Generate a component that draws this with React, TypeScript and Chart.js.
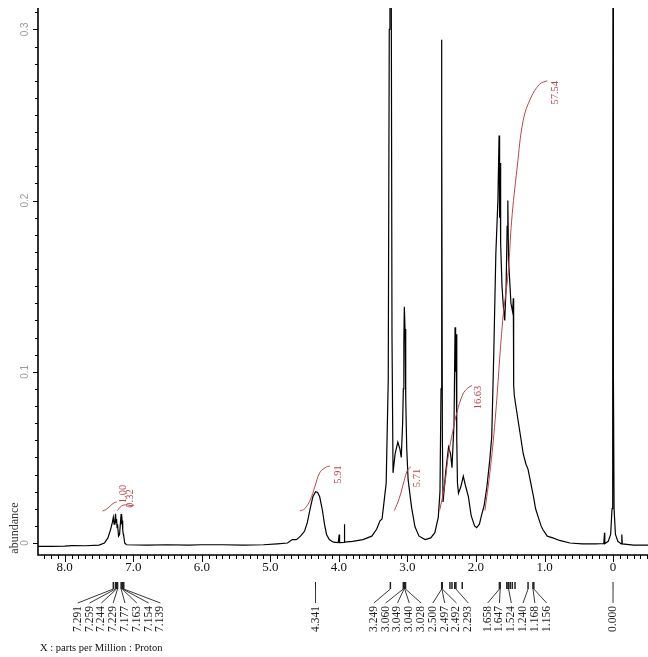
import React, { useEffect, useRef } from "react";
import { Chart, registerables } from "chart.js";

Chart.register(...registerables);

// ---- Spectrum (ppm, abundance) ----
const spectrumPpm = [
  8.39, 8.2, 8.0, 7.9, 7.7, 7.5, 7.42, 7.37, 7.33, 7.305, 7.291, 7.28, 7.267, 7.259, 7.25, 7.244, 7.236, 7.229,
  7.215, 7.2, 7.185, 7.177, 7.17, 7.163, 7.154, 7.146, 7.139, 7.125, 7.1, 6.8, 6.5, 6.2, 6.0, 5.7, 5.4, 5.1, 4.9,
  4.75, 4.68, 4.62, 4.56, 4.5, 4.46, 4.42, 4.38, 4.34, 4.31, 4.28, 4.24, 4.21, 4.18, 4.14, 4.08, 4.01, 3.995, 3.99,
  3.925, 3.92, 3.915, 3.8, 3.65, 3.52, 3.45, 3.4, 3.37, 3.35, 3.31, 3.28, 3.265, 3.255, 3.24, 3.225, 3.21, 3.18,
  3.14, 3.11, 3.09, 3.07, 3.06, 3.052, 3.045, 3.035, 3.025, 3.01, 2.99, 2.94, 2.89, 2.83, 2.74, 2.66, 2.6, 2.55,
  2.525, 2.51, 2.503, 2.497, 2.49, 2.48, 2.44, 2.4, 2.37, 2.35, 2.32, 2.305, 2.297, 2.29, 2.28, 2.27, 2.255, 2.22,
  2.185, 2.15, 2.11, 2.07, 2.02, 1.99, 1.95, 1.92, 1.88, 1.84, 1.8, 1.77, 1.74, 1.71, 1.68, 1.663, 1.655, 1.648,
  1.64, 1.62, 1.6, 1.58, 1.56, 1.545, 1.535, 1.525, 1.51, 1.49, 1.465, 1.455, 1.45, 1.44, 1.41, 1.36, 1.31, 1.27,
  1.24, 1.2, 1.16, 1.13, 1.09, 1.05, 1.02, 0.96, 0.88, 0.78, 0.63, 0.45, 0.25, 0.135, 0.125, 0.12, 0.07, 0.035,
  0.015, 0.005, 0.0, -0.005, -0.015, -0.035, -0.07, -0.12, -0.128, -0.135, -0.3, -0.51,
];
const spectrumAbund = [
  -0.002, -0.002, -0.0018, -0.0015, -0.0016, -0.0012, 0.0, 0.003, 0.008, 0.012, 0.015, 0.011, 0.013, 0.017, 0.012,
  0.014, 0.009, 0.011, 0.004, 0.005, 0.013, 0.017, 0.011, 0.013, 0.008, 0.005, 0.004, 0.0, -0.001, -0.0012, -0.001,
  -0.0012, -0.001, -0.001, -0.0012, -0.001, -0.0005, 0.0, 0.002, 0.002, 0.004, 0.007, 0.012, 0.02, 0.027, 0.03,
  0.0295, 0.027, 0.019, 0.011, 0.005, 0.002, 0.0005, 0.0003, 0.005, 0.0003, 0.0004, 0.011, 0.0005, 0.001, 0.002,
  0.004, 0.008, 0.013, 0.014, 0.021, 0.035, 0.095, 0.3, 0.45, 0.4, 0.12, 0.041, 0.052, 0.059, 0.055, 0.05, 0.07,
  0.09, 0.118, 0.138, 0.125, 0.085, 0.055, 0.037, 0.021, 0.0095, 0.004, 0.002, 0.003, 0.006, 0.015, 0.03, 0.09,
  0.294, 0.25, 0.06, 0.024, 0.042, 0.056, 0.052, 0.044, 0.07, 0.126, 0.1, 0.122, 0.06, 0.035, 0.029, 0.033, 0.039,
  0.033, 0.027, 0.016, 0.01, 0.009, 0.011, 0.016, 0.022, 0.033, 0.048, 0.062, 0.111, 0.169, 0.2, 0.238, 0.19,
  0.222, 0.175, 0.15, 0.138, 0.13, 0.15, 0.185, 0.2, 0.165, 0.155, 0.14, 0.135, 0.143, 0.092, 0.086, 0.078, 0.065,
  0.052, 0.046, 0.043, 0.035, 0.027, 0.02, 0.015, 0.01, 0.0076, 0.004, 0.003, 0.0015, 0.0, -0.0005, -0.0005,
  -0.0003, 0.006, -0.0003, 0.001, 0.005, 0.02, 0.1, 0.45, 0.1, 0.02, 0.005, 0.001, -0.0005, 0.005, -0.0005,
  -0.0012, -0.0012,
];

// ---- Integration curves ----
const int1aPpm = [7.45, 7.4, 7.34, 7.28, 7.24];
const int1aVal = [0.0187, 0.0195, 0.0215, 0.0235, 0.024];
const int1bPpm = [7.23, 7.19, 7.14, 7.08, 7.02, 6.99];
const int1bVal = [0.019, 0.021, 0.0222, 0.0222, 0.0218, 0.0222];
const int2Ppm = [4.57, 4.5, 4.42, 4.35, 4.28, 4.2, 4.13];
const int2Val = [0.0187, 0.02, 0.025, 0.033, 0.041, 0.044, 0.045];
const int3Ppm = [3.19, 3.12, 3.05, 3.0, 2.95];
const int3Val = [0.019, 0.026, 0.036, 0.0425, 0.0445];
const int4Ppm = [2.53, 2.46, 2.4, 2.34, 2.28, 2.19, 2.12, 2.06];
const int4Val = [0.019, 0.033, 0.052, 0.065, 0.076, 0.087, 0.0905, 0.092];
const int5Ppm = [1.87, 1.8, 1.72, 1.61, 1.53, 1.48, 1.4, 1.31, 1.2, 1.07, 0.96];
const int5Val = [0.019, 0.04, 0.072, 0.13, 0.158, 0.188, 0.219, 0.247, 0.26, 0.268, 0.27];

const integralLabels = ["1.00", "0.32", "5.91", "5.71", "16.63", "57.54"];
const integralLabelPpm = [7.15, 7.04, 4.01, 2.85, 1.97, 0.85];
const integralLabelVal = [0.0286, 0.026, 0.04, 0.038, 0.085, 0.263];

// ---- Peak pick labels ----
const peakGroups = [
  [7.291, 7.259, 7.244, 7.229, 7.177, 7.163, 7.154, 7.139],
  [4.341],
  [3.249, 3.06, 3.049, 3.04, 3.028, 2.5, 2.497, 2.492, 2.293],
  [1.658, 1.647, 1.524, 1.24, 1.168, 1.156],
  [0.0],
];
const unlabeledPeaks = [2.38, 2.35, 2.31, 2.2, 1.55, 1.53, 1.5, 1.47, 1.43];

// ---- Axis ticks ----
const xTickLabels = ["8.0", "7.0", "6.0", "5.0", "4.0", "3.0", "2.0", "1.0", "0"];
const xTickValues = [8, 7, 6, 5, 4, 3, 2, 1, 0];
const yTickLabels = ["0", "0.1", "0.2", "0.3"];
const yTickValues = [0, 0.1, 0.2, 0.3];

const toXY = (xs: number[], ys: number[]) => xs.map((x, i) => ({ x, y: ys[i] }));

const RED = "#b8474a";

const decorPlugin = {
  id: "decor",
  afterDraw(chart: any) {
    const ctx = chart.ctx as CanvasRenderingContext2D;
    const xs = chart.scales.x;
    const ys = chart.scales.y;
    const area = chart.chartArea;
    ctx.save();
    // axis lines
    ctx.strokeStyle = "#000";
    ctx.lineWidth = 1.6;
    ctx.beginPath();
    ctx.moveTo(area.left, area.top);
    ctx.lineTo(area.left, area.bottom);
    ctx.lineTo(area.right, area.bottom);
    ctx.stroke();
    // y ticks
    ctx.lineWidth = 1;
    for (let i = 0; i <= 31; i++) {
      const py = Math.round(ys.getPixelForValue(i / 100)) + 0.5;
      const len = i % 10 === 0 ? 5 : 3;
      ctx.beginPath();
      ctx.moveTo(area.left - len, py);
      ctx.lineTo(area.left, py);
      ctx.stroke();
    }
    // x ticks
    for (let i = -5; i <= 83; i++) {
      const px = Math.round(xs.getPixelForValue(i / 10)) + 0.5;
      const len = i % 10 === 0 ? 7 : 4;
      ctx.beginPath();
      ctx.moveTo(px, area.bottom);
      ctx.lineTo(px, area.bottom + len);
      ctx.stroke();
    }
    // x tick labels
    ctx.fillStyle = "#111";
    ctx.font = "13px 'Liberation Serif', serif";
    ctx.textAlign = "center";
    ctx.textBaseline = "middle";
    xTickValues.forEach((v, i) => {
      ctx.fillText(xTickLabels[i], xs.getPixelForValue(v), area.bottom + 13);
    });
    // y tick labels (rotated, grey)
    ctx.fillStyle = "#9a9a9a";
    ctx.font = "10px 'Liberation Sans', sans-serif";
    yTickValues.forEach((v, i) => {
      ctx.save();
      ctx.translate(area.left - 13, ys.getPixelForValue(v));
      ctx.rotate(-Math.PI / 2);
      ctx.textAlign = "center";
      ctx.textBaseline = "middle";
      ctx.fillText(yTickLabels[i], 0, 0);
      ctx.restore();
    });
    // y title
    ctx.fillStyle = "#333";
    ctx.font = "12px 'Liberation Serif', serif";
    ctx.save();
    ctx.translate(15, 528);
    ctx.rotate(-Math.PI / 2);
    ctx.textAlign = "center";
    ctx.textBaseline = "middle";
    ctx.fillText("abundance", 0, 0);
    ctx.restore();
    // x title
    ctx.fillStyle = "#111";
    ctx.font = "10.5px 'Liberation Serif', serif";
    ctx.textAlign = "left";
    ctx.textBaseline = "middle";
    ctx.fillText("X : parts per Million : Proton", 40, 648);

    // integral labels
    ctx.fillStyle = RED;
    ctx.font = "10.5px 'Liberation Serif', serif";
    integralLabels.forEach((t, i) => {
      ctx.save();
      ctx.translate(xs.getPixelForValue(integralLabelPpm[i]), ys.getPixelForValue(integralLabelVal[i]));
      ctx.rotate(-Math.PI / 2);
      ctx.textAlign = "center";
      ctx.textBaseline = "middle";
      ctx.fillText(t, 0, 0);
      ctx.restore();
    });

    // peak pick annotations
    const barTop = area.bottom + 27;
    const barBot = area.bottom + 34;
    const leadBot = area.bottom + 48;
    const textTop = area.bottom + 51;
    ctx.strokeStyle = "#222";
    ctx.fillStyle = "#222";
    ctx.font = "11.5px 'Liberation Serif', serif";
    unlabeledPeaks.forEach((p) => {
      const px = xs.getPixelForValue(p);
      ctx.lineWidth = 1.5;
      ctx.beginPath();
      ctx.moveTo(px, barTop);
      ctx.lineTo(px, barBot);
      ctx.stroke();
    });
    peakGroups.forEach((g) => {
      const pxs = g.map((p) => xs.getPixelForValue(p));
      const n = g.length;
      const center = pxs.reduce((a, b) => a + b, 0) / n;
      const spacing = 11.8;
      g.forEach((p, i) => {
        const px = pxs[i];
        const lx = n === 1 ? px : center + (i - (n - 1) / 2) * spacing;
        ctx.lineWidth = n === 1 ? 1 : 1.5;
        ctx.beginPath();
        ctx.moveTo(px, barTop);
        ctx.lineTo(px, barBot);
        ctx.stroke();
        ctx.lineWidth = 0.9;
        ctx.beginPath();
        ctx.moveTo(px, barBot);
        ctx.lineTo(lx, leadBot);
        ctx.stroke();
        ctx.save();
        ctx.translate(lx, textTop);
        ctx.rotate(-Math.PI / 2);
        ctx.textAlign = "right";
        ctx.textBaseline = "middle";
        ctx.fillText(p.toFixed(3), 0, 0);
        ctx.restore();
      });
    });
    ctx.restore();
  },
};

export default function App() {
  const ref = useRef<HTMLCanvasElement | null>(null);
  useEffect(() => {
    if (!ref.current) return;
    const intStyle = {
      borderColor: RED,
      borderWidth: 1,
      pointRadius: 0,
      tension: 0.4,
      fill: false,
    };
    const chart = new Chart(ref.current, {
      type: "line",
      data: {
        datasets: [
          { ...intStyle, data: toXY(int1aPpm, int1aVal) },
          { ...intStyle, data: toXY(int1bPpm, int1bVal) },
          { ...intStyle, data: toXY(int2Ppm, int2Val) },
          { ...intStyle, data: toXY(int3Ppm, int3Val) },
          { ...intStyle, data: toXY(int4Ppm, int4Val) },
          { ...intStyle, data: toXY(int5Ppm, int5Val) },
          {
            data: toXY(spectrumPpm, spectrumAbund),
            borderColor: "#000",
            borderWidth: 1.2,
            pointRadius: 0,
            tension: 0,
            fill: false,
          },
        ],
      },
      options: {
        animation: false,
        responsive: false,
        devicePixelRatio: 1,
        layout: { padding: { left: 38, top: 8, right: 0, bottom: 102 } },
        plugins: { legend: { display: false }, tooltip: { enabled: false } },
        scales: {
          x: { type: "linear", reverse: true, min: -0.51, max: 8.39, display: false },
          y: { type: "linear", min: -0.007, max: 0.3125, display: false },
        },
      },
      plugins: [decorPlugin],
    });
    return () => chart.destroy();
  }, []);
  return (
    <div style={{ position: "fixed", left: 0, top: 0, width: 648, height: 657, background: "#fff" }}>
      <canvas ref={ref} width={648} height={657} />
    </div>
  );
}
